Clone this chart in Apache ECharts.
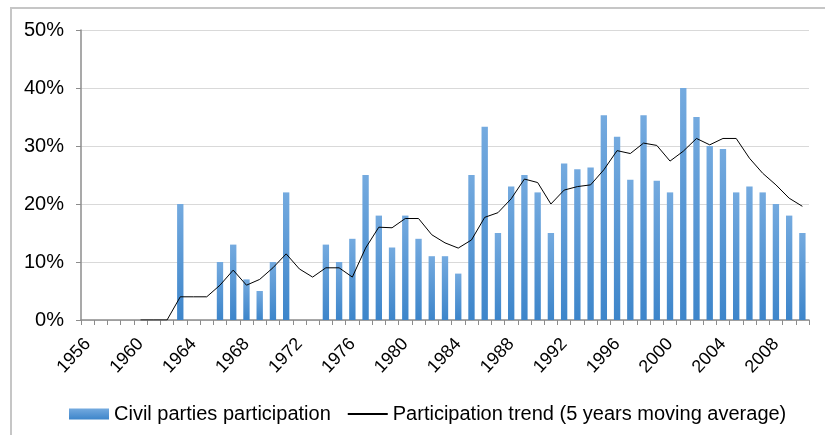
<!DOCTYPE html>
<html>
<head>
<meta charset="utf-8">
<script src="https://cdn.jsdelivr.net/npm/echarts@6/dist/echarts.min.js"></script>
<style>
html,body{margin:0;padding:0;background:#fff;}
#c{width:825px;height:435px;}
</style>
</head>
<body>
<div id="c"></div>
<script>
const years = [];
for (let y = 1956; y <= 2010; y++) years.push(String(y));

const participation = [
  0, 0, 0, 0, 0, 0, 0, 20, 0, 0,
  10, 13, 7, 5, 10, 22, 0, 0, 13, 10,
  14, 25, 18, 12.5, 18, 14, 11, 11, 8, 25,
  33.3, 15, 23, 25, 22, 15, 27, 26, 26.3, 35.3,
  31.6, 24.2, 35.3, 24, 22, 40, 35, 30, 29.5, 22,
  23, 22, 20, 18, 15
];

const trend = [
  null, null, null, null, 0, 0, 0, 4, 4, 4,
  6, 8.6, 6, 7, 9, 11.4, 8.8, 7.4, 9, 9,
  7.4, 12.4, 16, 15.9, 17.5, 17.5, 14.7, 13.3, 12.4, 13.8,
  17.7, 18.5, 20.9, 24.3, 23.7, 20, 22.4, 23, 23.3, 25.9,
  29.2, 28.7, 30.5, 30.1, 27.4, 29.1, 31.3, 30.2, 31.3, 31.3,
  27.9, 25.3, 23.3, 21, 19.6
];

const chart = echarts.init(document.getElementById('c'), null, {renderer: 'canvas'});
const FONT = 'Liberation Sans, Arial, sans-serif';
chart.setOption({
  animation: false,
  backgroundColor: '#ffffff',
  textStyle: {fontFamily: FONT},
  graphic: [{
    type: 'rect',
    shape: {x: 11, y: 8, width: 900, height: 500},
    style: {fill: 'none', stroke: '#c6c6c6', lineWidth: 2},
    silent: true
  }],
  grid: {left: 81, right: 16, top: 30, bottom: 115},
  legend: {
    left: 64, top: 399,
    itemWidth: 40, itemHeight: 11, itemGap: 16,
    textStyle: {fontSize: 20, color: '#000', fontFamily: FONT},
    data: [
      {name: 'Civil parties participation', icon: 'rect'},
      {name: 'Participation trend (5 years moving average)', itemStyle: {opacity: 0}}
    ]
  },
  xAxis: {
    type: 'category',
    data: years,
    boundaryGap: true,
    axisLine: {lineStyle: {color: '#8c8c8c', width: 1.5}},
    axisTick: {show: true, interval: 0, length: 5, alignWithLabel: false, lineStyle: {color: '#8c8c8c'}},
    axisLabel: {interval: 3, rotate: 47, fontSize: 18, color: '#000', margin: 21, fontFamily: FONT},
    splitLine: {show: false}
  },
  yAxis: {
    type: 'value',
    min: 0, max: 50, interval: 10,
    axisLine: {show: true, lineStyle: {color: '#8c8c8c', width: 1.5}},
    axisTick: {show: true, length: 5, lineStyle: {color: '#8c8c8c'}},
    axisLabel: {formatter: '{value}%', fontSize: 20, color: '#000', margin: 17, fontFamily: FONT},
    splitLine: {show: true, lineStyle: {color: '#d9d9d9', width: 1}}
  },
  series: [
    {
      name: 'Civil parties participation',
      type: 'bar',
      data: participation,
      barWidth: '48%',
      itemStyle: {
        color: new echarts.graphic.LinearGradient(0, 0, 0, 1, [
          {offset: 0, color: '#74aadf'},
          {offset: 1, color: '#3d85ca'}
        ])
      }
    },
    {
      name: 'Participation trend (5 years moving average)',
      type: 'line',
      data: trend,
      symbol: 'none',
      connectNulls: false,
      lineStyle: {color: '#000', width: 1},
      itemStyle: {color: '#000'}
    }
  ]
});
</script>
</body>
</html>
